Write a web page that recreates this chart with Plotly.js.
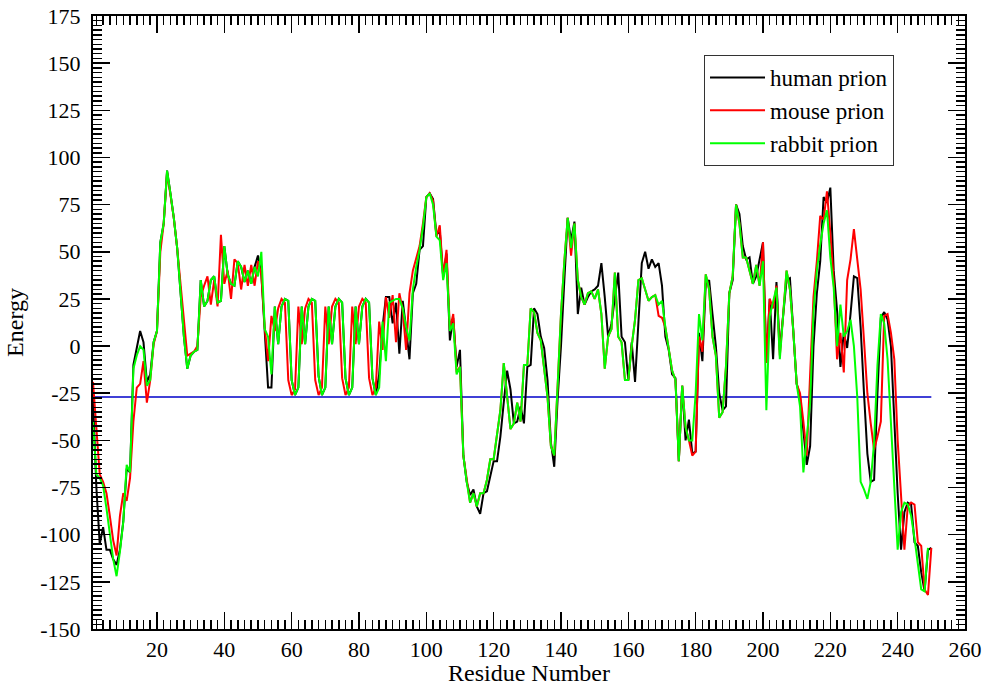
<!DOCTYPE html>
<html>
<head>
<meta charset="utf-8">
<script src="https://cdn.plot.ly/plotly-3.0.1.min.js"></script>
<style>html,body{margin:0;padding:0;background:#fff;}#chart{width:991px;height:686px;}</style>
</head>
<body>
<div id="chart"></div>
<script>
// ---- data ----
const firstResidue = 1;
const seriesNames = ["human prion", "mouse prion", "rabbit prion"];
const seriesColors = ["#000000", "#ff0000", "#00ff00"];
const cutoffEnergy = -27;

const xTickValues = [20, 40, 60, 80, 100, 120, 140, 160, 180, 200, 220, 240, 260];
const xTickLabels = ["20", "40", "60", "80", "100", "120", "140", "160", "180", "200", "220", "240", "260"];
const yTickValues = [-150, -125, -100, -75, -50, -25, 0, 25, 50, 75, 100, 125, 150, 175];
const yTickLabels = ["-150", "-125", "-100", "-75", "-50", "-25", "0", "25", "50", "75", "100", "125", "150", "175"];

const humanPrion = [
 -28,-75,-105,-96,-108,-108,-113,-116,-108,-93,
 -65,-67,-10,0,8,2,-19,-15,2,8,
 55,65,93,81,68,52,30,5,-12,-5,
 -3,-2,35,21,24,35,37,23,24,53,
 38,33,32,45,42,34,40,33,42,48,
 38,10,-22,-22,21,1,21,25,24,-18,
 -26,-22,21,1,21,25,24,-16,-26,-22,
 21,1,21,25,23,-17,-26,-22,21,1,
 21,25,23,-17,-26,-15,10,26,26,12,
 23,-4,24,9,-7,28,33,51,53,79,
 81,78,59,61,37,49,3,15,-11,-2,
 -58,-72,-79,-76,-85,-89,-78,-77,-69,-61,
 -61,-48,-30,-13,-23,-41,-40,-32,-41,-11,
 -10,20,17,5,-1,-18,-51,-64,-28,0,
 35,68,56,66,17,31,22,26,29,30,
 32,44,26,5,12,26,39,5,2,-18,
 2,-19,15,44,50,41,46,42,44,32,
 5,-2,-15,-17,-61,-21,-50,-39,-57,-56,
 7,-8,33,35,17,0,-25,-34,-32,28,
 35,75,70,53,46,47,33,37,46,55,
 -9,25,-7,34,-2,17,35,36,9,-20,
 -27,-44,-63,-53,0,28,45,79,76,84,
 40,19,-11,7,-1,17,37,36,10,-25,
 -57,-72,-71,-25,15,18,14,0,-42,-78,
 -108,-88,-83,-84,-104,-106,-120,-130,-108,-107
];

const mousePrion = [
 -19,-45,-68,-72,-78,-90,-103,-111,-90,-78,
 -82,-70,-40,-22,-20,-8,-30,-18,1,8,
 50,65,92,80,68,52,33,10,-5,-4,
 -3,0,26,32,37,22,35,21,59,33,
 40,25,46,44,30,43,32,43,32,45,
 38,10,-8,16,8,20,25,23,-18,-26,
 -23,21,1,20,25,23,-18,-26,-22,21,
 1,21,25,23,-17,-26,-22,21,1,21,
 25,23,-17,-26,-22,13,-2,26,15,27,
 2,28,19,-2,28,40,47,53,65,79,
 81,77,58,64,37,51,9,17,-14,-11,
 -58,-72,-83,-78,-85,-78,-78,-71,-60,-60,
 -48,-34,-9,-27,-44,-41,-30,-40,-10,-10,
 20,18,7,3,-11,-27,-53,-58,-21,17,
 45,68,48,65,35,26,22,28,29,25,
 30,17,-12,5,9,39,5,2,-18,-18,
 0,14,35,36,30,24,26,27,16,15,
 10,-2,-13,-18,-61,-21,-43,-50,-58,-56,
 5,-3,38,30,5,-5,-38,-35,-11,28,
 37,75,65,47,47,40,33,43,32,55,
 -9,25,20,32,-5,17,40,30,8,-20,
 -25,-40,-58,-15,26,45,69,67,82,60,
 35,-7,7,-14,35,46,62,46,30,3,
 -25,-41,-55,-48,-40,16,17,7,-7,-50,
 -78,-108,-85,-83,-84,-104,-106,-129,-132,-107
];

const rabbitPrion = [
 -40,-68,-70,-74,-86,-100,-113,-122,-109,-93,
 -63,-67,-12,-5,0,-2,-21,-18,2,8,
 55,65,93,81,68,52,30,5,-12,-5,
 -3,-2,35,21,24,35,37,23,24,53,
 38,33,32,45,42,34,40,33,42,37,
 50,9,5,-15,21,1,21,25,24,-18,
 -26,-22,21,1,21,25,24,-16,-26,-22,
 21,1,21,25,23,-17,-26,-22,21,1,
 21,25,23,-17,-26,-22,13,-8,23,24,
 25,25,20,10,3,30,42,51,63,79,
 81,75,58,56,35,44,8,12,-15,-11,
 -58,-72,-83,-78,-85,-78,-78,-71,-60,-60,
 -48,-34,-9,-27,-44,-41,-30,-40,-10,-10,
 20,18,7,3,-11,-27,-53,-58,-21,17,
 45,68,52,65,35,26,22,28,29,25,
 30,17,-12,5,9,39,5,2,-18,-18,
 0,14,35,36,30,24,26,27,22,24,
 10,-2,-13,-18,-61,-21,-43,-50,-50,-25,
 17,3,38,30,5,-5,-38,-35,-11,28,
 37,75,65,47,47,40,33,43,32,45,
 -34,16,24,31,-7,17,40,30,8,-20,
 -32,-67,-50,-30,18,40,54,65,72,47,
 31,0,22,5,8,14,0,-27,-72,-76,
 -81,-72,-51,-10,17,12,-7,-42,-78,-108,
 -88,-83,-84,-90,-102,-117,-129,-130,-107
];

const xMinorStep = 2, yMinorStep = 2.5;
const xRange = [1, 260], yRange = [-150, 175];

// ---- build traces ----
const residuesFor = arr => arr.map((_, i) => firstResidue + i);
const allSeries = [humanPrion, mousePrion, rabbitPrion];
const longest = Math.max(...allSeries.map(a => a.length));
const lastResidue = firstResidue + longest - 1;

const traces = [{
  x: [firstResidue, lastResidue],
  y: [cutoffEnergy, cutoffEnergy],
  mode: "lines",
  line: {color: "#0000c8", width: 1.3},
  showlegend: false,
  hoverinfo: "skip"
}];
allSeries.forEach((vals, k) => {
  traces.push({
    x: residuesFor(vals),
    y: vals,
    name: seriesNames[k],
    mode: "lines",
    line: {color: seriesColors[k], width: 2}
  });
});

const serif = "Liberation Serif";
const axisCommon = {
  ticks: "inside",
  ticklen: 17,
  tickwidth: 1.5,
  tickcolor: "#000",
  showline: true,
  linecolor: "#000",
  linewidth: 2,
  mirror: "allticks",
  showgrid: false,
  zeroline: false,
  tickmode: "array",
  tickfont: {family: serif, size: 22, color: "#000"},
};

const layout = {
  width: 991,
  height: 686,
  margin: {l: 93, r: 26, t: 16, b: 57},
  paper_bgcolor: "#fff",
  plot_bgcolor: "#fff",
  font: {family: serif, size: 22, color: "#000"},
  showlegend: true,
  legend: {
    x: 0.7007, y: 0.9364, xanchor: "left", yanchor: "top",
    bgcolor: "#fff", bordercolor: "#333", borderwidth: 1,
    font: {family: serif, size: 23, color: "#000"},
    itemwidth: 55,
    traceorder: "normal"
  },
  xaxis: Object.assign({}, axisCommon, {
    range: xRange, tickvals: xTickValues, ticktext: xTickLabels,
    minor: {ticks: "inside", ticklen: 9, tickwidth: 1.5, tickcolor: "#000", dtick: xMinorStep, tick0: 0, showgrid: false},
    title: {text: "Residue Number", font: {family: serif, size: 24, color: "#000"}, standoff: 0}
  }),
  yaxis: Object.assign({}, axisCommon, {
    range: yRange, tickvals: yTickValues, ticktext: yTickLabels,
    minor: {ticks: "inside", ticklen: 9, tickwidth: 1.5, tickcolor: "#000", dtick: yMinorStep, tick0: 0, showgrid: false},
    ticklabelstandoff: 6,
    title: {text: "Energy", font: {family: serif, size: 24, color: "#000"}, standoff: 10}
  })
};

Plotly.newPlot("chart", traces, layout, {displayModeBar: false, staticPlot: true});
</script>
</body>
</html>
